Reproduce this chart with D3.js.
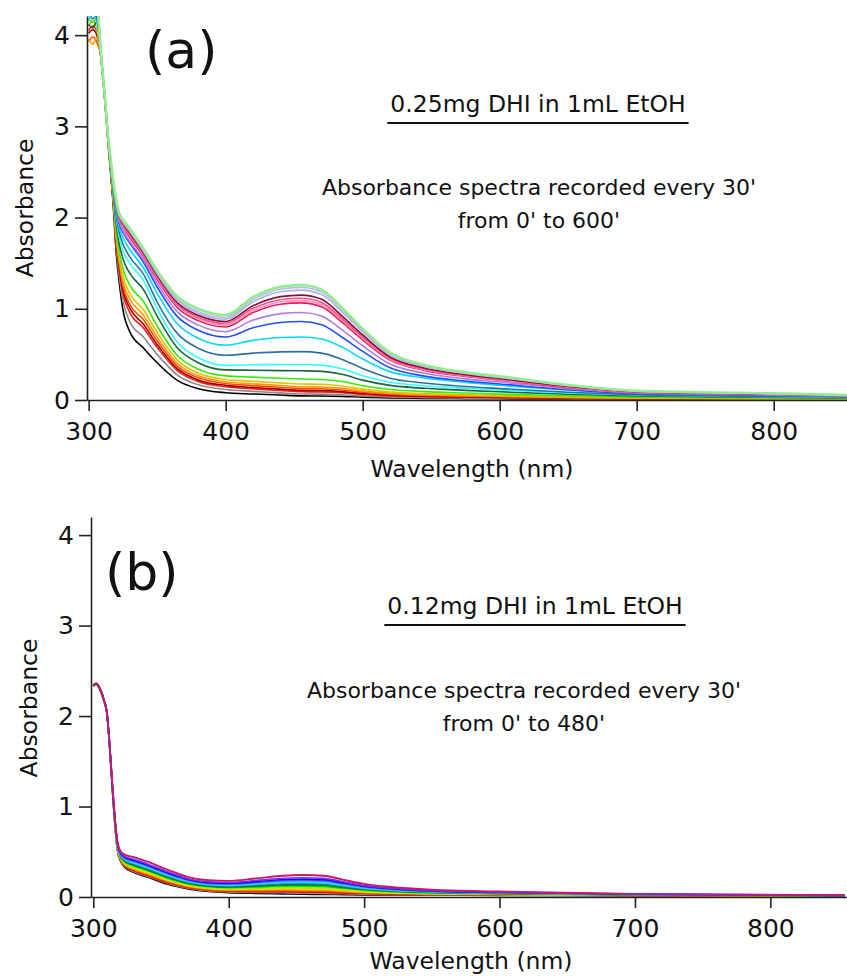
<!DOCTYPE html>
<html>
<head>
<meta charset="utf-8">
<script src="https://cdn.jsdelivr.net/npm/d3@7"></script>
<style>
  body { margin: 0; background: #fff; }
  svg text { font-family: "DejaVu Sans", sans-serif; fill: #111; }
</style>
</head>
<body>
<div id="chart"></div>
<script>
// ---- panel (a) : 0.25mg DHI, one spectrum every 30' from 0' to 600'
const wavesA = [300, 303, 306, 309, 312, 314, 316, 318, 320, 322, 325, 330, 340, 350, 365, 380,
  400, 420, 440, 455, 470, 485, 500, 520, 545, 575, 600, 650, 700, 775, 855];
const timesA = [0, 30, 60, 90, 120, 150, 180, 210, 240, 270, 300, 330, 360, 390, 420, 450, 480, 510, 540, 570, 600];
const absA = [
  [4.3, 4.35, 4.25, 3.75, 3.25, 2.85, 2.50, 2.12, 1.63, 1.33, 0.99, 0.75, 0.57, 0.408, 0.212, 0.124, 0.08, 0.066, 0.054, 0.045, 0.044, 0.04, 0.031, 0.023, 0.018, 0.015, 0.013, 0.009, 0.006, 0.005, 0.003],
  [4.25, 4.3, 4.22, 3.76, 3.26, 2.87, 2.51, 2.15, 1.69, 1.40, 1.09, 0.86, 0.69, 0.5, 0.27, 0.167, 0.115, 0.095, 0.078, 0.065, 0.064, 0.057, 0.044, 0.033, 0.026, 0.021, 0.018, 0.013, 0.009, 0.007, 0.005],
  [4.05, 4.1, 4.04, 3.76, 3.26, 2.87, 2.53, 2.17, 1.74, 1.47, 1.17, 0.96, 0.79, 0.577, 0.319, 0.203, 0.145, 0.123, 0.104, 0.09, 0.088, 0.079, 0.061, 0.045, 0.036, 0.03, 0.025, 0.018, 0.013, 0.009, 0.006],
  [4.02, 4.06, 4.0, 3.76, 3.26, 2.87, 2.53, 2.18, 1.76, 1.49, 1.21, 1.01, 0.83, 0.609, 0.341, 0.22, 0.16, 0.138, 0.119, 0.105, 0.103, 0.092, 0.071, 0.053, 0.042, 0.035, 0.029, 0.021, 0.015, 0.011, 0.007],
  [3.93, 3.98, 3.92, 3.76, 3.26, 2.87, 2.54, 2.19, 1.78, 1.52, 1.25, 1.05, 0.88, 0.649, 0.369, 0.243, 0.18, 0.158, 0.139, 0.125, 0.123, 0.11, 0.085, 0.063, 0.05, 0.041, 0.035, 0.025, 0.018, 0.013, 0.009],
  [3.96, 3.9, 3.97, 3.76, 3.26, 2.87, 2.54, 2.21, 1.81, 1.56, 1.30, 1.11, 0.93, 0.689, 0.397, 0.266, 0.2, 0.178, 0.159, 0.145, 0.142, 0.128, 0.099, 0.073, 0.058, 0.048, 0.041, 0.029, 0.02, 0.015, 0.01],
  [4.1, 4.16, 4.06, 3.76, 3.26, 2.87, 2.55, 2.22, 1.84, 1.60, 1.36, 1.17, 0.99, 0.738, 0.432, 0.294, 0.225, 0.205, 0.188, 0.175, 0.172, 0.154, 0.119, 0.088, 0.07, 0.058, 0.049, 0.035, 0.025, 0.018, 0.012],
  [4.18, 4.14, 4.2, 3.78, 3.28, 2.9, 2.56, 2.25, 1.89, 1.66, 1.44, 1.26, 1.08, 0.811, 0.485, 0.338, 0.265, 0.251, 0.239, 0.23, 0.225, 0.202, 0.156, 0.115, 0.092, 0.076, 0.064, 0.046, 0.032, 0.023, 0.016],
  [4.12, 4.08, 4.15, 3.78, 3.28, 2.9, 2.57, 2.28, 1.95, 1.74, 1.55, 1.39, 1.21, 0.92, 0.568, 0.409, 0.33, 0.326, 0.322, 0.32, 0.314, 0.282, 0.218, 0.16, 0.128, 0.106, 0.09, 0.064, 0.045, 0.032, 0.022],
  [4.2, 4.26, 4.16, 3.78, 3.28, 2.9, 2.58, 2.30, 2.01, 1.81, 1.64, 1.50, 1.31, 1.003, 0.631, 0.464, 0.38, 0.386, 0.389, 0.39, 0.382, 0.343, 0.265, 0.195, 0.156, 0.129, 0.109, 0.078, 0.055, 0.039, 0.027],
  [4.25, 4.18, 4.22, 3.78, 3.28, 2.9, 2.59, 2.32, 2.04, 1.86, 1.71, 1.57, 1.38, 1.073, 0.725, 0.568, 0.49, 0.514, 0.528, 0.53, 0.514, 0.445, 0.345, 0.239, 0.186, 0.148, 0.125, 0.085, 0.058, 0.042, 0.032],
  [4.17, 4.22, 4.15, 3.78, 3.28, 2.9, 2.60, 2.34, 2.08, 1.91, 1.78, 1.65, 1.45, 1.17, 0.83, 0.677, 0.60, 0.654, 0.685, 0.69, 0.669, 0.58, 0.449, 0.311, 0.242, 0.193, 0.162, 0.11, 0.076, 0.055, 0.041],
  [4.22, 4.28, 4.19, 3.78, 3.28, 2.9, 2.61, 2.36, 2.12, 1.95, 1.84, 1.72, 1.51, 1.239, 0.911, 0.764, 0.69, 0.792, 0.85, 0.86, 0.826, 0.688, 0.533, 0.353, 0.262, 0.208, 0.176, 0.112, 0.069, 0.054, 0.038],
  [4.29, 4.34, 4.31, 3.78, 3.28, 2.9, 2.62, 2.37, 2.13, 1.97, 1.86, 1.74, 1.54, 1.279, 0.963, 0.821, 0.75, 0.876, 0.947, 0.96, 0.922, 0.768, 0.595, 0.394, 0.293, 0.232, 0.197, 0.125, 0.077, 0.06, 0.042],
  [4.37, 4.3, 4.35, 3.8, 3.3, 2.92, 2.62, 2.38, 2.15, 2.0, 1.90, 1.78, 1.575, 1.319, 1.009, 0.87, 0.80, 0.959, 1.049, 1.065, 1.022, 0.852, 0.66, 0.437, 0.325, 0.258, 0.218, 0.138, 0.085, 0.067, 0.047],
  [4.32, 4.36, 4.3, 3.8, 3.3, 2.92, 2.63, 2.38, 2.16, 2.01, 1.91, 1.80, 1.59, 1.336, 1.028, 0.889, 0.82, 0.982, 1.074, 1.09, 1.046, 0.872, 0.676, 0.447, 0.332, 0.264, 0.223, 0.142, 0.087, 0.069, 0.048],
  [4.34, 4.29, 4.33, 3.8, 3.3, 2.92, 2.63, 2.38, 2.17, 2.02, 1.92, 1.81, 1.60, 1.349, 1.045, 0.908, 0.84, 1.005, 1.099, 1.115, 1.07, 0.892, 0.691, 0.457, 0.34, 0.27, 0.229, 0.145, 0.089, 0.07, 0.049],
  [4.3, 4.37, 4.28, 3.8, 3.3, 2.92, 2.63, 2.39, 2.17, 2.03, 1.94, 1.83, 1.615, 1.366, 1.064, 0.928, 0.86, 1.034, 1.133, 1.15, 1.104, 0.92, 0.713, 0.472, 0.351, 0.278, 0.236, 0.15, 0.092, 0.072, 0.051],
  [4.36, 4.31, 4.34, 3.8, 3.3, 2.92, 2.64, 2.39, 2.18, 2.04, 1.95, 1.85, 1.63, 1.384, 1.086, 0.952, 0.885, 1.077, 1.186, 1.205, 1.157, 0.964, 0.747, 0.494, 0.367, 0.292, 0.247, 0.157, 0.096, 0.076, 0.053],
  [4.33, 4.38, 4.3, 3.8, 3.3, 2.92, 2.64, 2.39, 2.19, 2.05, 1.96, 1.86, 1.645, 1.40, 1.105, 0.97, 0.905, 1.103, 1.215, 1.235, 1.186, 0.988, 0.766, 0.506, 0.377, 0.299, 0.253, 0.161, 0.099, 0.078, 0.054],
  [4.35, 4.4, 4.32, 3.8, 3.3, 2.92, 2.65, 2.40, 2.20, 2.06, 1.98, 1.88, 1.66, 1.42, 1.13, 1.0, 0.93, 1.128, 1.24, 1.26, 1.21, 1.01, 0.78, 0.52, 0.385, 0.305, 0.26, 0.165, 0.10, 0.08, 0.055]
];
const colorsA = ['#000000', '#8c8c8c', '#ff1a1a', '#990000', '#ff4a00', '#ff9900', '#e6c000', '#33ee00',
  '#1a6640', '#33ffff', '#2f6f9f', '#00d8ff', '#1f4fff', '#b07ae8', '#f0145a', '#ff8fb4', '#ff4f8a',
  '#8b1038', '#a8b4f0', '#c0b8d8', '#90ee90'];

// ---- panel (b) : 0.12mg DHI, one spectrum every 30' from 0' to 480'
const wavesB = [300, 302, 305, 308, 310, 312, 314, 316, 318, 320, 323, 330, 340, 355, 370, 385,
  400, 420, 440, 455, 470, 485, 500, 520, 550, 600, 700, 855];
const timesB = [0, 30, 60, 90, 120, 150, 180, 210, 240, 270, 300, 330, 360, 390, 420, 450, 480];
const absB = [
  [2.33, 2.35, 2.29, 2.16, 2.03, 1.67, 1.21, 0.79, 0.50, 0.40, 0.33, 0.27, 0.22, 0.14, 0.09, 0.06, 0.048, 0.04, 0.035, 0.03, 0.028, 0.026, 0.024, 0.022, 0.02, 0.018, 0.015, 0.01],
  [2.33, 2.35, 2.29, 2.16, 2.031, 1.672, 1.213, 0.795, 0.506, 0.407, 0.338, 0.28, 0.23, 0.15, 0.098, 0.068, 0.056, 0.05, 0.047, 0.043, 0.04, 0.036, 0.031, 0.027, 0.024, 0.021, 0.016, 0.011],
  [2.33, 2.35, 2.29, 2.16, 2.032, 1.673, 1.216, 0.799, 0.512, 0.413, 0.346, 0.29, 0.24, 0.158, 0.105, 0.074, 0.063, 0.059, 0.058, 0.054, 0.052, 0.045, 0.038, 0.032, 0.027, 0.023, 0.017, 0.011],
  [2.33, 2.35, 2.29, 2.16, 2.033, 1.675, 1.219, 0.804, 0.517, 0.419, 0.354, 0.299, 0.249, 0.167, 0.112, 0.081, 0.07, 0.068, 0.069, 0.066, 0.063, 0.054, 0.045, 0.037, 0.03, 0.025, 0.018, 0.012],
  [2.33, 2.35, 2.29, 2.16, 2.035, 1.677, 1.221, 0.808, 0.523, 0.425, 0.362, 0.308, 0.258, 0.176, 0.119, 0.088, 0.077, 0.077, 0.08, 0.078, 0.075, 0.063, 0.051, 0.042, 0.034, 0.027, 0.02, 0.012],
  [2.33, 2.35, 2.29, 2.16, 2.036, 1.678, 1.224, 0.812, 0.528, 0.431, 0.369, 0.318, 0.268, 0.185, 0.126, 0.095, 0.084, 0.086, 0.091, 0.09, 0.086, 0.072, 0.058, 0.047, 0.037, 0.03, 0.021, 0.013],
  [2.33, 2.35, 2.29, 2.16, 2.037, 1.68, 1.227, 0.817, 0.534, 0.437, 0.377, 0.327, 0.277, 0.194, 0.134, 0.102, 0.092, 0.095, 0.102, 0.101, 0.097, 0.081, 0.065, 0.051, 0.04, 0.032, 0.022, 0.013],
  [2.33, 2.35, 2.29, 2.16, 2.038, 1.682, 1.23, 0.821, 0.539, 0.443, 0.385, 0.336, 0.286, 0.202, 0.141, 0.109, 0.099, 0.104, 0.113, 0.113, 0.109, 0.09, 0.071, 0.056, 0.043, 0.034, 0.023, 0.014],
  [2.33, 2.35, 2.29, 2.16, 2.039, 1.683, 1.232, 0.826, 0.545, 0.449, 0.392, 0.346, 0.296, 0.211, 0.148, 0.116, 0.106, 0.113, 0.124, 0.125, 0.12, 0.099, 0.078, 0.061, 0.047, 0.037, 0.024, 0.014],
  [2.34, 2.36, 2.30, 2.17, 2.04, 1.685, 1.235, 0.83, 0.55, 0.455, 0.40, 0.355, 0.305, 0.22, 0.155, 0.123, 0.113, 0.123, 0.135, 0.137, 0.132, 0.108, 0.085, 0.066, 0.05, 0.039, 0.025, 0.015],
  [2.34, 2.36, 2.30, 2.17, 2.041, 1.687, 1.238, 0.834, 0.556, 0.461, 0.408, 0.364, 0.314, 0.229, 0.162, 0.129, 0.12, 0.132, 0.146, 0.148, 0.143, 0.117, 0.091, 0.071, 0.053, 0.041, 0.026, 0.016],
  [2.34, 2.36, 2.30, 2.17, 2.042, 1.688, 1.24, 0.839, 0.561, 0.467, 0.415, 0.374, 0.324, 0.238, 0.169, 0.136, 0.127, 0.141, 0.157, 0.16, 0.154, 0.126, 0.098, 0.076, 0.057, 0.044, 0.027, 0.016],
  [2.34, 2.36, 2.30, 2.17, 2.043, 1.69, 1.244, 0.844, 0.567, 0.474, 0.424, 0.384, 0.334, 0.247, 0.177, 0.144, 0.135, 0.151, 0.169, 0.173, 0.167, 0.136, 0.105, 0.081, 0.06, 0.046, 0.028, 0.017],
  [2.34, 2.36, 2.30, 2.17, 2.045, 1.692, 1.247, 0.848, 0.573, 0.48, 0.432, 0.394, 0.344, 0.257, 0.185, 0.151, 0.143, 0.16, 0.181, 0.185, 0.179, 0.146, 0.112, 0.086, 0.064, 0.049, 0.03, 0.017],
  [2.34, 2.36, 2.30, 2.17, 2.046, 1.694, 1.25, 0.853, 0.579, 0.487, 0.441, 0.404, 0.354, 0.266, 0.193, 0.159, 0.151, 0.17, 0.193, 0.198, 0.192, 0.156, 0.12, 0.092, 0.067, 0.051, 0.031, 0.018],
  [2.34, 2.36, 2.30, 2.17, 2.047, 1.696, 1.253, 0.859, 0.586, 0.495, 0.45, 0.416, 0.366, 0.278, 0.202, 0.168, 0.16, 0.182, 0.207, 0.213, 0.206, 0.167, 0.128, 0.098, 0.072, 0.054, 0.032, 0.019],
  [2.34, 2.36, 2.30, 2.17, 2.05, 1.70, 1.26, 0.87, 0.60, 0.51, 0.47, 0.44, 0.39, 0.30, 0.22, 0.185, 0.178, 0.205, 0.235, 0.243, 0.235, 0.19, 0.145, 0.11, 0.08, 0.06, 0.035, 0.02]
];
const colorsB = ['#000000', '#8c8c8c', '#ff0000', '#ff4500', '#ff9900', '#ffd500', '#b5e61d', '#66ff00',
  '#00c000', '#006a3a', '#008a8a', '#00e5ee', '#5fb0ff', '#3060ff', '#0010ff', '#8a2be2', '#c8186e'];

// shared axis ticks
const xTicks = [300, 400, 500, 600, 700, 800];
const yTicks = [0, 1, 2, 3, 4];

const W = 847, H = 976;
const svg = d3.select('#chart').append('svg')
  .attr('width', W)
  .attr('height', H);

function drawPanel(p) {
  var x = d3.scaleLinear().domain(p.xDomain).range([p.left, p.right]);
  var y = d3.scaleLinear().domain([0, p.yMax]).range([p.bottom, p.top]);

  var g = svg.append('g');

  g.append('clipPath').attr('id', p.id + '-clip')
    .append('rect')
    .attr('x', p.left).attr('y', p.top)
    .attr('width', p.right - p.left).attr('height', p.bottom - p.top);

  var line = d3.line()
    .x(function (d) { return x(d[0]); })
    .y(function (d) { return y(d[1]); })
    .curve(d3.curveMonotoneX);

  // one path per spectrum, earliest first so the latest sits on top
  g.append('g').attr('clip-path', 'url(#' + p.id + '-clip)')
    .selectAll('path')
    .data(p.series)
    .join('path')
      .attr('fill', 'none')
      .attr('stroke', function (d, i) { return p.colors[i]; })
      .attr('stroke-width', function (d, i) { return i === p.series.length - 1 ? p.lastWidth : 1.6; })
      .attr('stroke-linejoin', 'round')
      .attr('d', function (d) { return line(p.waves.map(function (w, k) { return [w, d[k]]; })); });

  // axes
  var xAxis = g.append('g')
    .attr('transform', 'translate(0,' + p.bottom + ')')
    .call(d3.axisBottom(x).tickValues(xTicks).tickSize(11).tickSizeOuter(0).tickPadding(11));
  var yAxis = g.append('g')
    .attr('transform', 'translate(' + p.left + ',0)')
    .call(d3.axisLeft(y).tickValues(yTicks).tickFormat(d3.format('d')).tickSize(12).tickSizeOuter(0).tickPadding(5));

  [xAxis, yAxis].forEach(function (a) {
    a.selectAll('path, line').attr('stroke', '#222').attr('stroke-width', 1.6);
    a.selectAll('text').attr('fill', '#111').style('font-size', '25px')
      .style('font-family', '"DejaVu Sans", sans-serif');
  });

  g.append('text')
    .attr('x', p.xTitle[0]).attr('y', p.xTitle[1])
    .attr('text-anchor', 'middle')
    .style('font-size', '23.5px')
    .text('Wavelength (nm)');

  g.append('text')
    .attr('transform', 'translate(' + p.yTitle[0] + ',' + p.yTitle[1] + ') rotate(-90)')
    .attr('text-anchor', 'middle')
    .style('font-size', '23.5px')
    .text('Absorbance');

  // panel letter
  g.append('text')
    .attr('x', p.letter[0]).attr('y', p.letter[1])
    .style('font-size', '52px')
    .text(p.letterText);

  // sample note, underlined
  var note = g.append('text')
    .attr('x', p.note[0]).attr('y', p.note[1])
    .attr('text-anchor', 'middle')
    .style('font-size', '23.5px')
    .text(p.noteText);
  var bb = note.node().getBBox();
  g.append('line')
    .attr('x1', bb.x - 3).attr('x2', bb.x + bb.width + 3)
    .attr('y1', p.note[1] + 11).attr('y2', p.note[1] + 11)
    .attr('stroke', '#111').attr('stroke-width', 2);

  g.append('text')
    .attr('x', p.desc[0]).attr('y', p.desc[1])
    .attr('text-anchor', 'middle')
    .style('font-size', '22px')
    .text("Absorbance spectra recorded every 30'");
  g.append('text')
    .attr('x', p.desc[0]).attr('y', p.desc[1] + 33)
    .attr('text-anchor', 'middle')
    .style('font-size', '22px')
    .text("from 0' to " + p.lastTime + "'");
}

drawPanel({
  id: 'pa', left: 87, right: 847, top: 16, bottom: 400,
  xDomain: [298.8, 853.5], yMax: 4.21,
  waves: wavesA, series: absA, colors: colorsA, lastWidth: 2.6,
  xTitle: [472, 477], yTitle: [33, 208],
  letter: [145, 68], letterText: '(a)',
  note: [538, 112], noteText: '0.25mg DHI in 1mL EtOH',
  desc: [539, 195], lastTime: timesA[timesA.length - 1]
});

drawPanel({
  id: 'pb', left: 91, right: 847, top: 517, bottom: 897,
  xDomain: [298.3, 856.6], yMax: 4.2,
  waves: wavesB, series: absB, colors: colorsB, lastWidth: 1.9,
  xTitle: [471, 969], yTitle: [37, 708],
  letter: [105, 590], letterText: '(b)',
  note: [535, 614], noteText: '0.12mg DHI in 1mL EtOH',
  desc: [524, 698], lastTime: timesB[timesB.length - 1]
});
</script>
</body>
</html>
